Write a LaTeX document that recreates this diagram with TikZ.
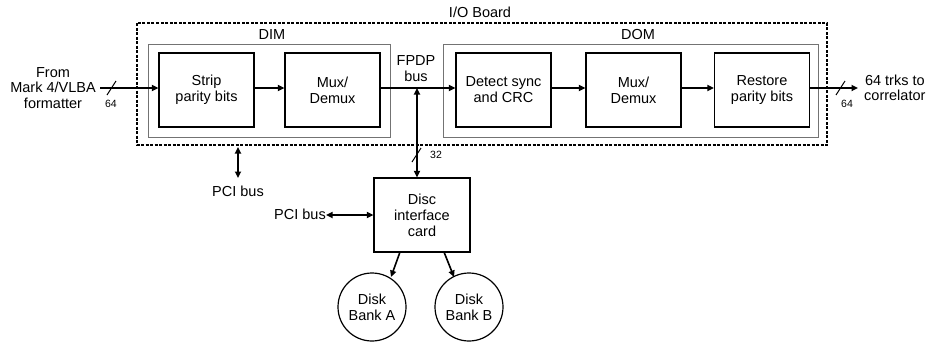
\documentclass[tikz,border=0pt]{standalone}
\usepackage{fontspec}
\setmainfont{Liberation Sans}
\usetikzlibrary{arrows.meta}
\begin{document}
\begin{tikzpicture}[x=1pt,y=-1pt,
  font=\fontsize{14.5}{16}\selectfont,
  every node/.style={inner sep=0pt, align=center},
  blk/.style={draw, line width=1.2pt, minimum width=95pt, minimum height=74pt},
  grp/.style={draw=black!55, line width=1pt},
  arr/.style={line width=1.6pt, -{Triangle[length=6.5pt,width=6pt]}},
  biarr/.style={line width=1.6pt, {Triangle[length=6.5pt,width=6pt]}-{Triangle[length=6.5pt,width=6pt]}},
  small/.style={font=\fontsize{10.5}{11}\selectfont},
  tick/.style={line width=1pt},
  disk/.style={draw, circle, line width=1.2pt, minimum size=68pt}]
\useasboundingbox (0,0) rectangle (927,341);

% I/O board outline
\draw[line width=1.5pt, dash pattern=on 3pt off 1.5pt] (137,23) rectangle (827,145);
\node at (480,12) {I/O Board};

% DIM and DOM groups
\draw[grp] (148,44) rectangle (390,137);
\node at (272,35) {DIM};
\draw[grp] (443,44) rectangle (818,137);
\node at (638,35) {DOM};

% processing blocks
\node[blk] (strip) at (206.5,90) {Strip\\parity bits};
\node[blk] (mux1) at (332.5,90) {Mux/\\Demux};
\node[blk] (det) at (503.5,90) {Detect sync\\and CRC};
\node[blk] (mux2) at (633.5,90) {Mux/\\Demux};
\node[blk] (rest) at (762,90) {Restore\\parity bits};

% input and output
\node[font=\fontsize{14.5}{15.5}\selectfont] (src) at (53,88) {From\\Mark 4/VLBA\\formatter};
\coordinate (inL) at (100,88);
\coordinate (outR) at (858,88);
\node[anchor=west, font=\fontsize{14.5}{15.5}\selectfont] (dst) at (864,88) {64 trks to\\correlator};

\draw[arr] (inL) -- (strip.west |- inL);
\draw[tick] (107,95) -- (116,81);
\node[small] at (111,104) {64};

\draw[arr] (strip.east |- inL) -- (mux1.west |- inL);
\draw[arr] (mux1.east |- inL) -- (det.west |- inL);
\draw[arr] (det.east |- inL) -- (mux2.west |- inL);
\draw[arr] (mux2.east |- inL) -- (rest.west |- inL);
\draw[arr] (rest.east |- inL) -- (outR);
\draw[tick] (836,95) -- (845,81);
\node[small] at (847,104) {64};

% FPDP bus
\node at (416,69) {FPDP\\bus};
\coordinate (fp) at (417,88);

% disc interface
\node[draw, line width=1.2pt, minimum width=96pt, minimum height=74pt] (disc) at (422,215) {Disc\\interface\\card};
\draw[biarr] (fp) -- (fp |- disc.north);
\draw[tick] (412,162) -- (421,148);
\node[small] at (436,155) {32};

% PCI buses
\coordinate (pciTop) at (238,147);
\node (pci1) at (238,191) {PCI bus};
\draw[biarr] (pciTop) -- (238,178);
\node[anchor=east] (pci2) at (326,214) {PCI bus};
\draw[biarr] (pci2.east |- disc.west) -- (disc.west);

% disk banks
\node[disk] (dA) at (372,307) {Disk\\Bank A};
\node[disk] (dB) at (469,307) {Disk\\Bank B};
\draw[arr] (400,252) -- (391,277);
\draw[arr] (444,252) -- (454,277);
\end{tikzpicture}
\end{document}
